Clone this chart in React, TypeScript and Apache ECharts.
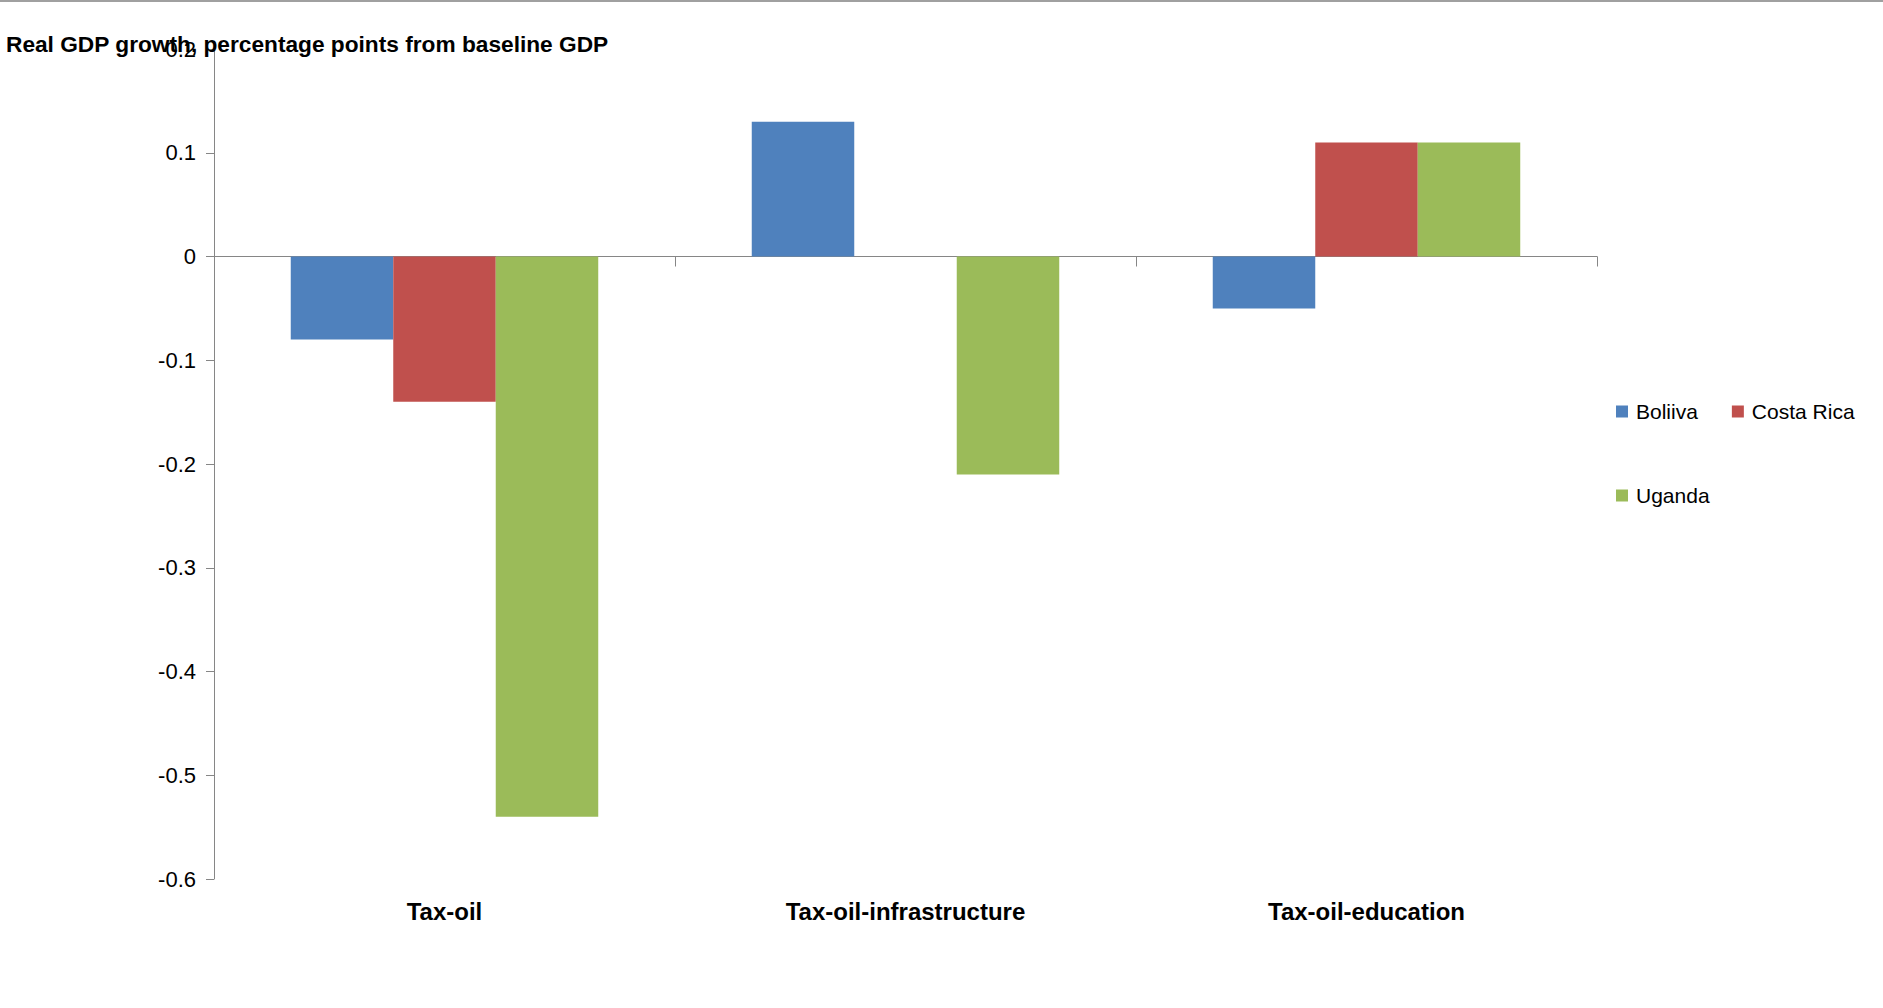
import React, { useEffect, useRef } from "react";
import * as echarts from "echarts";

const categories = ["Tax-oil", "Tax-oil-infrastructure", "Tax-oil-education"];
const seriesNames = ["Boliiva", "Costa Rica", "Uganda"];
const boliviaValues = [-0.08, 0.13, -0.05];
const costaRicaValues = [-0.14, 0, 0.11];
const ugandaValues = [-0.54, -0.21, 0.11];
const colors = ["#4F81BD", "#C0504D", "#9BBB59"];
const titleText = "Real GDP growth, percentage points from baseline GDP";

const FONT = "'Liberation Sans', Arial, sans-serif";

export default function App() {
  const ref = useRef<HTMLDivElement>(null);
  useEffect(() => {
    if (!ref.current) return;
    const chart = echarts.init(ref.current, null, { renderer: "svg" });
    const values = [boliviaValues, costaRicaValues, ugandaValues];
    chart.setOption({
      animation: false,
      backgroundColor: "#ffffff",
      textStyle: { fontFamily: FONT },
      title: {
        text: titleText,
        left: 6,
        top: 32,
        padding: 0,
        textStyle: { fontFamily: FONT, fontSize: 22.7, fontWeight: "bold", color: "#000" },
      },
      legend: [
        {
          data: [seriesNames[0], seriesNames[1]],
          left: 1616,
          top: 401,
          padding: 0,
          itemWidth: 12,
          itemHeight: 12,
          itemGap: 34,
          icon: "rect",
          textStyle: { fontFamily: FONT, fontSize: 21, color: "#000", padding: [0, 0, 0, 3] },
        },
        {
          data: [seriesNames[2]],
          left: 1616,
          top: 485,
          padding: 0,
          itemWidth: 12,
          itemHeight: 12,
          icon: "rect",
          textStyle: { fontFamily: FONT, fontSize: 21, color: "#000", padding: [0, 0, 0, 3] },
        },
      ],
      grid: { left: 214, top: 49, right: 286, bottom: 129, containLabel: false },
      xAxis: [
        {
          type: "category",
          data: categories,
          axisLine: { onZero: true, lineStyle: { color: "#868686", width: 1 } },
          axisTick: { show: true, interval: 0, length: 10, inside: false, alignWithLabel: false, lineStyle: { color: "#868686" } },
          axisLabel: { show: false },
          splitLine: { show: false },
        },
        {
          type: "category",
          data: categories,
          position: "bottom",
          axisLine: { show: false },
          axisTick: { show: false },
          axisLabel: { show: true, interval: 0, margin: 20, fontFamily: FONT, fontSize: 24, fontWeight: "bold", color: "#000" },
          splitLine: { show: false },
        },
      ],
      yAxis: {
        type: "value",
        min: -0.6,
        max: 0.2,
        interval: 0.1,
        axisLine: { show: true, lineStyle: { color: "#868686", width: 1 } },
        axisTick: { show: true, length: 8, lineStyle: { color: "#868686" } },
        axisLabel: {
          margin: 18,
          fontFamily: FONT,
          fontSize: 22,
          color: "#000",
          formatter: (v: number) => String(Number(v.toFixed(1))),
        },
        splitLine: { show: false },
      },
      series: seriesNames.map((name, i) => ({
        name,
        type: "bar",
        xAxisIndex: 0,
        data: values[i],
        barGap: "0%",
        barCategoryGap: "33.3%",
        itemStyle: { color: colors[i] },
      })),
      graphic: [
        {
          type: "line",
          shape: { x1: 0, y1: 1, x2: 1883, y2: 1 },
          style: { stroke: "#a0a0a0", lineWidth: 2 },
        },
      ],
    });
    return () => chart.dispose();
  }, []);
  return (
    <div
      ref={ref}
      style={{ position: "fixed", left: 0, top: 0, width: 1883, height: 1008 }}
    />
  );
}
